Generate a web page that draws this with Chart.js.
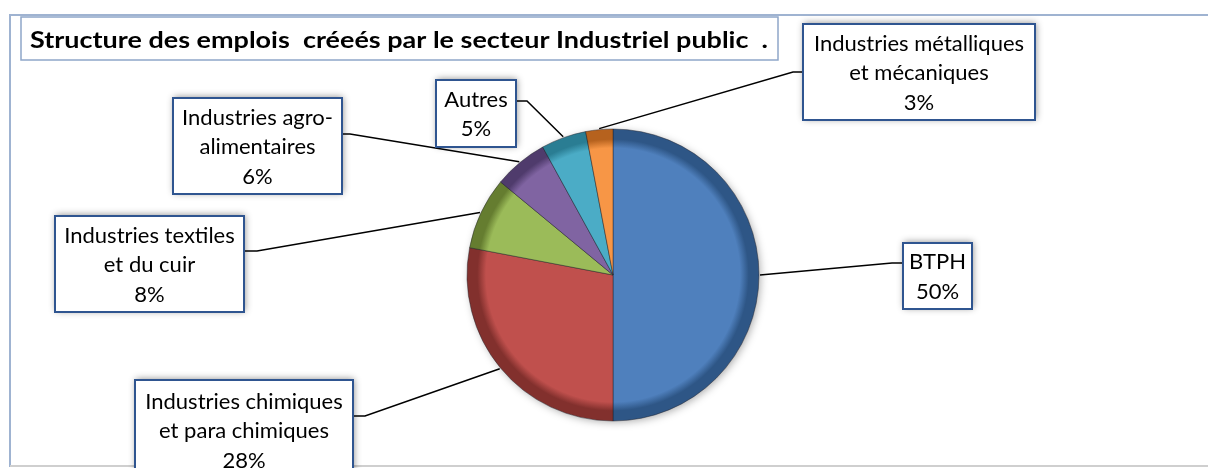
<!DOCTYPE html>
<html>
<head>
<meta charset="utf-8">
<script src="https://cdn.jsdelivr.net/npm/chart.js@4/dist/chart.umd.min.js"></script>
<style>
  html, body { margin:0; padding:0; background:#fff; }
  #wrap { position:relative; width:1208px; height:468px; }
</style>
</head>
<body>
<div id="wrap"><canvas id="pieChart"></canvas></div>
<script>
// data
const titleText = "Structure des emplois  créeés par le secteur Industriel public  .";
const categories = ["BTPH", "Industries chimiques et para chimiques", "Industries textiles et du cuir",
    "Industries agro-alimentaires", "Autres", "Industries métalliques et mécaniques"];
const categoryLines = [["BTPH"], ["Industries chimiques", "et para chimiques"], ["Industries textiles", "et du cuir"],
    ["Industries agro-", "alimentaires"], ["Autres"], ["Industries métalliques", "et mécaniques"]];
const values = [50, 28, 8, 6, 5, 3];

// styles
const baseColors = ["#4f80bd", "#c0504d", "#9bbb59", "#8064a2", "#4bacc6", "#f79646"];
const rimColors  = ["#2e5686", "#82302d", "#657d30", "#4f3b6c", "#2a7d93", "#b6621e"];
const PIE_R = 146;

// callout layout: box [x, y, w, h], elbow point [x, y]
const callouts = [
    { box:[903, 243, 69, 66],   elbow:[892, 263] },
    { box:[135, 380, 218, 100], elbow:[365, 416] },
    { box:[55, 216, 189, 96],   elbow:[257, 251] },
    { box:[173, 98, 169, 96],   elbow:[350, 134] },
    { box:[436, 80, 80, 67],    elbow:[527, 101] },
    { box:[803, 24, 232, 96],   elbow:[793, 72] }
];

function pieFill(c){
    const i = c.dataIndex;
    const ca = c.chart.chartArea;
    if(!ca) return baseColors[i];
    const cx = (ca.left + ca.right) / 2, cy = (ca.top + ca.bottom) / 2;
    const g = c.chart.ctx.createRadialGradient(cx, cy, 0, cx, cy, PIE_R);
    g.addColorStop(0, baseColors[i]);
    g.addColorStop(0.87, baseColors[i]);
    g.addColorStop(0.93, rimColors[i]);
    g.addColorStop(1, rimColors[i]);
    return g;
}

// draw text squeezed/stretched to a target width
function fitText(ctx, text, x, y, width){
    const w = ctx.measureText(text).width;
    ctx.save();
    ctx.translate(x, y);
    ctx.scale(width / w, 1);
    ctx.fillText(text, 0, 0);
    ctx.restore();
}

const framePlugin = {
    id: "frame",
    beforeDraw(chart){
        const ctx = chart.ctx;
        ctx.save();
        // outer frame
        ctx.strokeStyle = "#9fb3d1";
        ctx.lineWidth = 2;
        ctx.beginPath();
        ctx.moveTo(10, 467);
        ctx.lineTo(10, 15);
        ctx.lineTo(1208, 15);
        ctx.stroke();
        ctx.strokeStyle = "#cfcfcf";
        ctx.beginPath();
        ctx.moveTo(10, 466);
        ctx.lineTo(1208, 466);
        ctx.stroke();
        // title box
        ctx.fillStyle = "#fff";
        ctx.fillRect(21, 17, 757, 43);
        ctx.strokeStyle = "#8fa6c9";
        ctx.lineWidth = 1.5;
        ctx.strokeRect(21, 17, 757, 43);
        ctx.fillStyle = "#000";
        ctx.font = "bold 23px Lato";
        ctx.textBaseline = "alphabetic";
        fitText(ctx, titleText, 30, 48, 738);
        ctx.restore();
    },
    beforeDatasetsDraw(chart){
        const arc = chart.getDatasetMeta(0).data[0];
        if(!arc) return;
        const ctx = chart.ctx;
        ctx.save();
        ctx.shadowColor = "rgba(0,0,0,0.35)";
        ctx.shadowBlur = 8;
        ctx.shadowOffsetX = 2;
        ctx.shadowOffsetY = 2;
        ctx.fillStyle = "#666";
        ctx.beginPath();
        ctx.arc(arc.x, arc.y, arc.outerRadius - 1, 0, Math.PI * 2);
        ctx.fill();
        ctx.restore();
    },
    afterDatasetsDraw(chart){
        const ctx = chart.ctx;
        const arcs = chart.getDatasetMeta(0).data;
        ctx.save();
        arcs.forEach((a, i) => {
            const co = callouts[i];
            const mid = (a.startAngle + a.endAngle) / 2;
            const ax = a.x + Math.cos(mid) * (a.outerRadius + 1);
            const ay = a.y + Math.sin(mid) * (a.outerRadius + 1);
            const [bx, by, bw, bh] = co.box;
            const [ex, ey] = co.elbow;
            const sx = ex > bx + bw / 2 ? bx + bw : bx;
            // leader line
            ctx.strokeStyle = "#000";
            ctx.lineWidth = 1.5;
            ctx.beginPath();
            ctx.moveTo(ax, ay);
            ctx.lineTo(ex, ey);
            ctx.lineTo(sx, ey);
            ctx.stroke();
            // box
            ctx.save();
            ctx.shadowColor = "rgba(0,0,0,0.45)";
            ctx.shadowBlur = 7;
            ctx.shadowOffsetX = 1;
            ctx.shadowOffsetY = -1;
            ctx.fillStyle = "#fff";
            ctx.fillRect(bx, by, bw, bh);
            ctx.restore();
            ctx.strokeStyle = "#2f5590";
            ctx.lineWidth = 2;
            ctx.strokeRect(bx, by, bw, bh);
            // text
            const lines = categoryLines[i].concat([values[i] + "%"]);
            ctx.fillStyle = "#000";
            ctx.font = "22px Lato";
            ctx.textAlign = "center";
            ctx.textBaseline = "middle";
            const lh = 29.5;
            const top = by + bh / 2 - (lines.length - 1) * lh / 2 + 1;
            lines.forEach((t, k) => ctx.fillText(t, bx + bw / 2, top + k * lh));
        });
        ctx.restore();
    }
};

new Chart(document.getElementById("pieChart").getContext("2d"), {
    type: "pie",
    data: {
        labels: categories,
        datasets: [{
            data: values,
            backgroundColor: pieFill,
            borderColor: "rgba(30,30,40,0.45)",
            borderWidth: 1
        }]
    },
    options: {
        responsive: true,
        maintainAspectRatio: false,
        animation: false,
        radius: PIE_R,
        layout: { padding: { left: 18, right: 0, top: 82, bottom: 0 } },
        plugins: { legend: { display: false }, tooltip: { enabled: false }, title: { display: false } }
    },
    plugins: [framePlugin]
});
</script>
</body>
</html>
